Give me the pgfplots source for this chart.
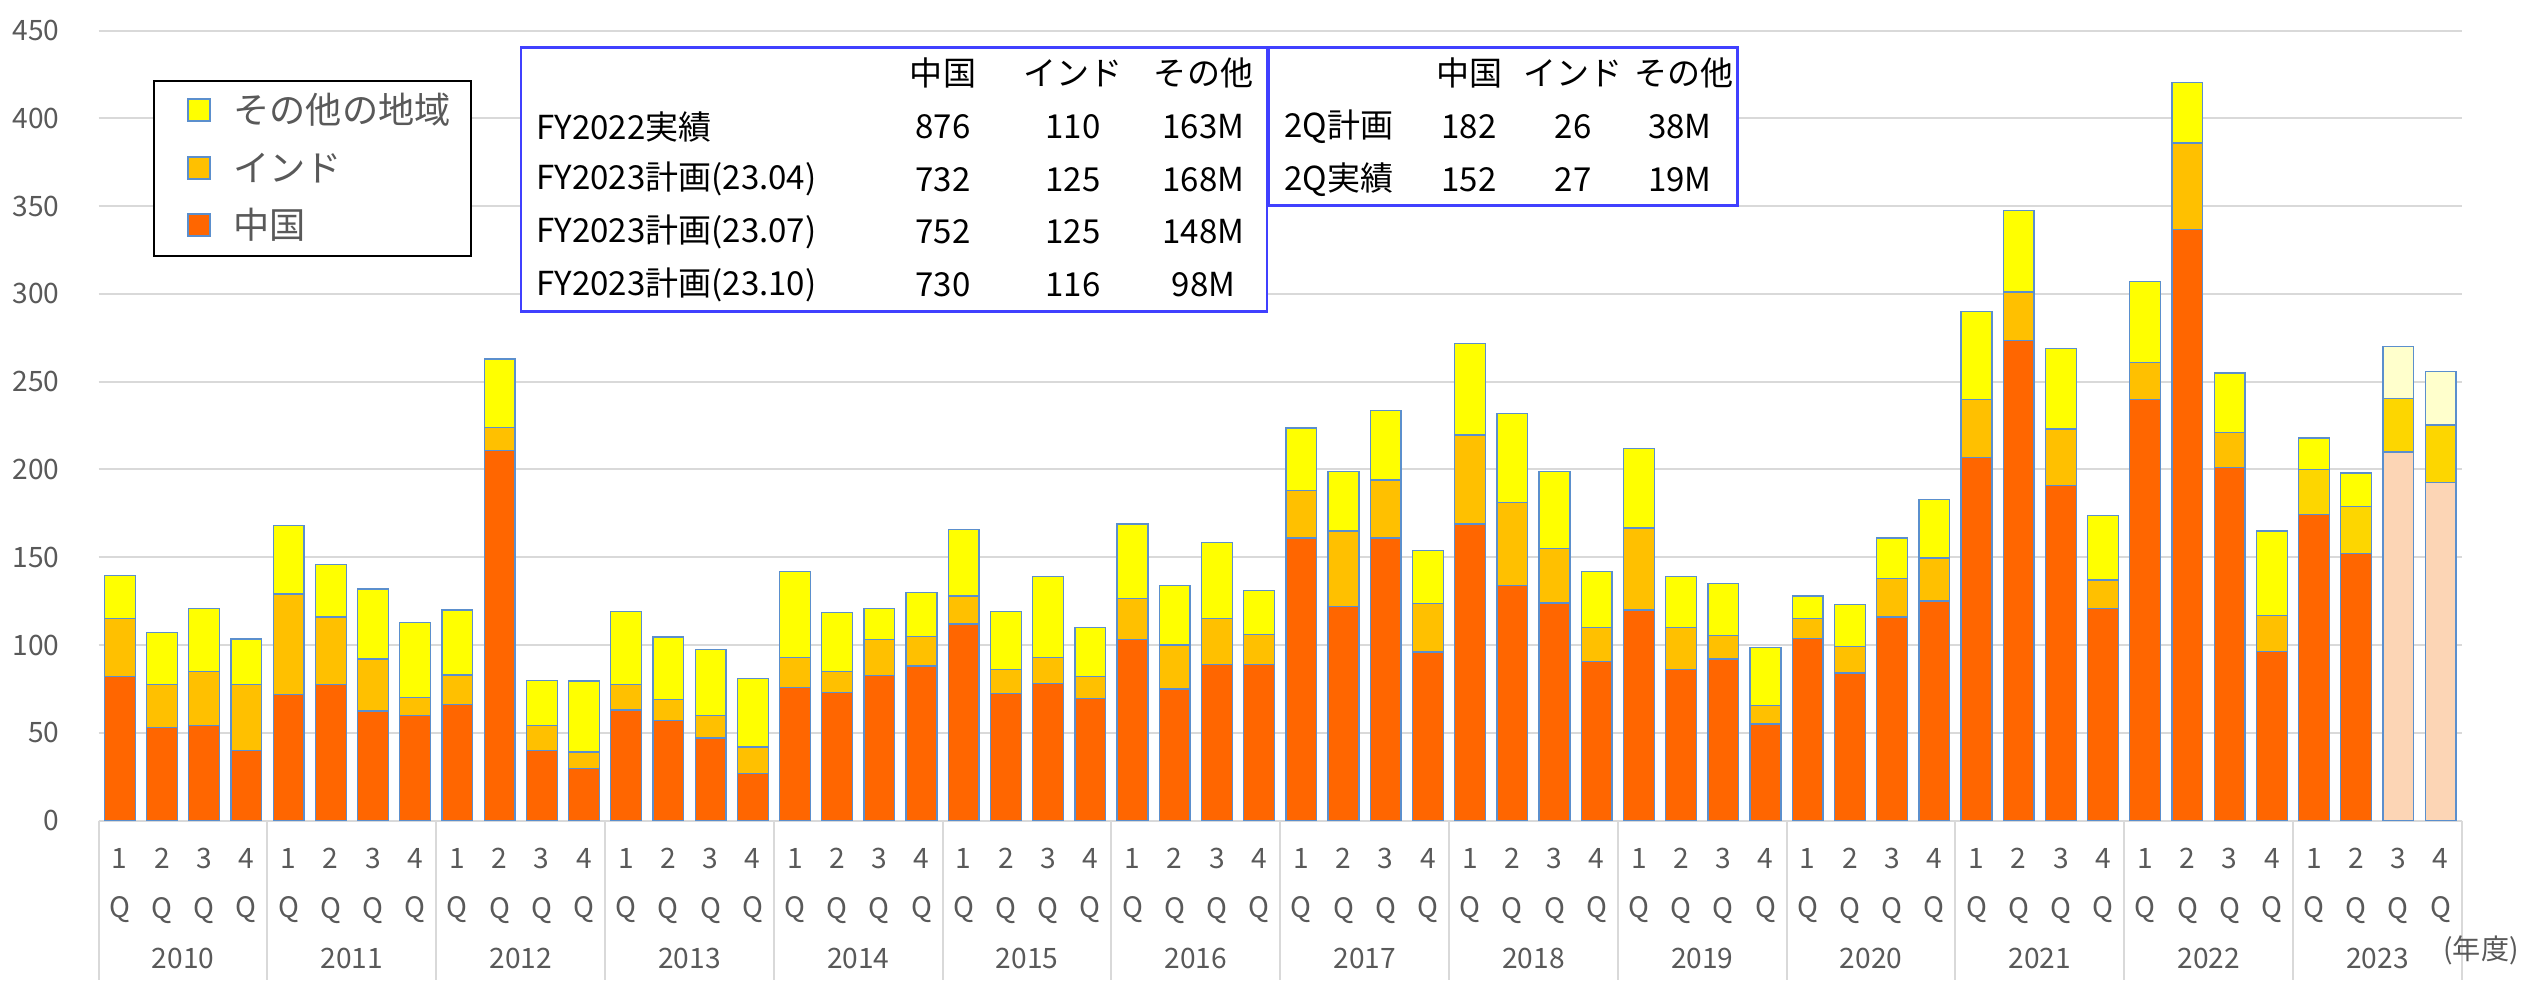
\documentclass[border=0pt]{standalone}
\usepackage{fontspec}
\setmainfont{Noto Sans CJK JP}
\usepackage{pgfplots}
\usepackage{pgfplotstable}
\pgfplotsset{compat=1.18}

\definecolor{cn}{HTML}{FF6600}
\definecolor{cnpale}{HTML}{FCD5B5}
\definecolor{ind}{HTML}{FFC000}
\definecolor{indgold}{HTML}{FDD600}
\definecolor{oth}{HTML}{FFFF00}
\definecolor{othpale}{HTML}{FFFFCC}
\definecolor{edge}{HTML}{5B8FCD}
\definecolor{gridgray}{HTML}{D9D9D9}
\definecolor{tickgray}{HTML}{595959}
\definecolor{tblue}{HTML}{4040FF}

% x: 0 = 2010 1Q ... 55 = 2023 4Q
% cn/ind/oth normal colours, cnP/indG/othP for the 2023 bars
\pgfplotstableread{
x   cn     cnP    ind    indG   oth    othP
0   82     0      33     0      24.5   0
1   53     0      24.5   0      29.5   0
2   54     0      31     0      36     0
3   40     0      37.5   0      26     0
4   72     0      57     0      39     0
5   77.5   0      38.5   0      30     0
6   62.5   0      29.5   0      40     0
7   60     0      10     0      43     0
8   66     0      17     0      37     0
9   211    0      13     0      39     0
10  40     0      14     0      26     0
11  29.6   0      9.4    0      40.6   0
12  63     0      14.5   0      41.5   0
13  57     0      12     0      35.6   0
14  47     0      13     0      37.3   0
15  27     0      15     0      39     0
16  76     0      17     0      49     0
17  73     0      12     0      33.7   0
18  82.7   0      20.3   0      18     0
19  88     0      17     0      25     0
20  112    0      16     0      38     0
21  72.6   0      13.4   0      33     0
22  78     0      15     0      46     0
23  69.6   0      12.4   0      28     0
24  103    0      23.6   0      42.4   0
25  75     0      25     0      34     0
26  89     0      26     0      43.6   0
27  89     0      17     0      25     0
28  161    0      27     0      35.6   0
29  122    0      43     0      34     0
30  161    0      33     0      39.4   0
31  96     0      27.5   0      30.3   0
32  169    0      50.6   0      52.2   0
33  134    0      47     0      51     0
34  124    0      31     0      44     0
35  90.6   0      19.4   0      32     0
36  120    0      46.6   0      45.4   0
37  86     0      24     0      29     0
38  92     0      13.6   0      29.4   0
39  55     0      10.6   0      32.9   0
40  103.7  0      11.3   0      13     0
41  84     0      15     0      24     0
42  116    0      22     0      23     0
43  125    0      24.5   0      33.5   0
44  207    0      33     0      50     0
45  273.6  0      27.4   0      46.5   0
46  191    0      32     0      46     0
47  121    0      16     0      36.6   0
48  240    0      21     0      46     0
49  336.8  0      49.2   0      34.4   0
50  201    0      20     0      34     0
51  96.4   0      20.6   0      48     0
52  174.5  0      0      25.5   18     0
53  152    0      0      27     19     0
54  0      210    0      30.4   0      29.7
55  0      192.5  0      32.9   0      30.2
}\data

\begin{document}
\begin{tikzpicture}
\begin{axis}[
    at={(9.87mm,15.94mm)}, anchor=south west,
    scale only axis, width=236.3mm, height=79.01mm,
    ybar stacked, bar width=0.73,
    xmin=-0.5, xmax=55.5, ymin=0, ymax=450,
    ytick={0,50,...,450},
    xtick={0,...,55},
    xticklabels={
      {1\\Q},{2\\Q},{3\\Q},{4\\Q},{1\\Q},{2\\Q},{3\\Q},{4\\Q},
      {1\\Q},{2\\Q},{3\\Q},{4\\Q},{1\\Q},{2\\Q},{3\\Q},{4\\Q},
      {1\\Q},{2\\Q},{3\\Q},{4\\Q},{1\\Q},{2\\Q},{3\\Q},{4\\Q},
      {1\\Q},{2\\Q},{3\\Q},{4\\Q},{1\\Q},{2\\Q},{3\\Q},{4\\Q},
      {1\\Q},{2\\Q},{3\\Q},{4\\Q},{1\\Q},{2\\Q},{3\\Q},{4\\Q},
      {1\\Q},{2\\Q},{3\\Q},{4\\Q},{1\\Q},{2\\Q},{3\\Q},{4\\Q},
      {1\\Q},{2\\Q},{3\\Q},{4\\Q},{1\\Q},{2\\Q},{3\\Q},{4\\Q}},
    axis x line*=bottom, axis y line*=left,
    x axis line style={draw=gridgray, line width=0.2mm, -},
    y axis line style={draw=none},
    tick style={draw=none},
    ymajorgrids, grid style={draw=gridgray, line width=0.2mm},
    /pgf/number format/assume math mode=true,
    yticklabel style={font=\fontsize{8}{10}\selectfont, text=tickgray, xshift=-2.7mm},
    xticklabel style={font=\fontsize{8}{14.2}\selectfont, text=tickgray, align=center, yshift=-1.5mm},
    every axis plot/.append style={draw=edge, line width=0.13mm},
]
\addplot[fill=cn]      table[x=x,y=cn]{\data};
\addplot[fill=cnpale]  table[x=x,y=cnP]{\data};
\addplot[fill=ind]     table[x=x,y=ind]{\data};
\addplot[fill=indgold] table[x=x,y=indG]{\data};
\addplot[fill=oth]     table[x=x,y=oth]{\data};
\addplot[fill=othpale] table[x=x,y=othP]{\data};
\end{axis}

\begin{scope}[x=0.1mm, y=0.1mm]
% year separators and labels
\foreach \k in {0,...,14}
  \draw[gridgray, line width=0.2mm] ({98.7+168.79*\k},159.4) -- ({98.7+168.79*\k},0);
\foreach \k in {0,...,13} {
  \pgfmathtruncatemacro\yr{2010+\k}
  \node[font=\fontsize{8}{10}\selectfont, text=tickgray] at ({98.7+168.79*\k+84.4},22) {\yr};
}
\node[font=\fontsize{8}{10}\selectfont, text=tickgray] at (2481,30) {(年度)};

% legend
\draw[black, line width=0.2mm, fill=white] (154,898.6) rectangle (471,724.5);
\begin{scope}[font=\fontsize{10.3}{12}\selectfont, text=tickgray]
\draw[edge, line width=0.13mm, fill=oth] (188,859) rectangle (210,881);
\node[anchor=west] at (221,870) {その他の地域};
\draw[edge, line width=0.13mm, fill=ind] (188,801) rectangle (210,823);
\node[anchor=west] at (221,812) {インド};
\draw[edge, line width=0.13mm, fill=cn] (188,744) rectangle (210,766);
\node[anchor=west] at (221,755) {中国};
\end{scope}

% plan table 1
\draw[tblue, line width=0.25mm, fill=white] (521,932.3) rectangle (1266.8,668.3);
\begin{scope}[font=\fontsize{9.4}{11}\selectfont]
\node at (943,906.6) {中国};
\node at (1073,906.6) {インド};
\node at (1203.5,906.6) {その他};
\node[anchor=west] at (524,853) {FY2022実績};
\node at (943,853) {876}; \node at (1073,853) {110}; \node at (1203.5,853) {163M};
\node[anchor=west] at (524,800.6) {FY2023計画(23.04)};
\node at (943,800.6) {732}; \node at (1073,800.6) {125}; \node at (1203.5,800.6) {168M};
\node[anchor=west] at (524,748) {FY2023計画(23.07)};
\node at (943,748) {752}; \node at (1073,748) {125}; \node at (1203.5,748) {148M};
\node[anchor=west] at (524,695) {FY2023計画(23.10)};
\node at (943,695) {730}; \node at (1073,695) {116}; \node at (1203.5,695) {98M};
\end{scope}

% plan table 2
\draw[tblue, line width=0.25mm, fill=white] (1269,932.3) rectangle (1737.5,774.3);
\begin{scope}[font=\fontsize{9.4}{11}\selectfont]
\node at (1469,906.6) {中国};
\node at (1573,906.6) {インド};
\node at (1684,906.6) {その他};
\node[anchor=west] at (1272,853) {2Q計画};
\node at (1469,853) {182}; \node at (1573,853) {26}; \node at (1680,853) {38M};
\node[anchor=west] at (1272,800.6) {2Q実績};
\node at (1469,800.6) {152}; \node at (1573,800.6) {27}; \node at (1680,800.6) {19M};
\end{scope}
\end{scope}

\pgfresetboundingbox
\path (0,0) rectangle (253.5mm,98mm);
\end{tikzpicture}
\end{document}
